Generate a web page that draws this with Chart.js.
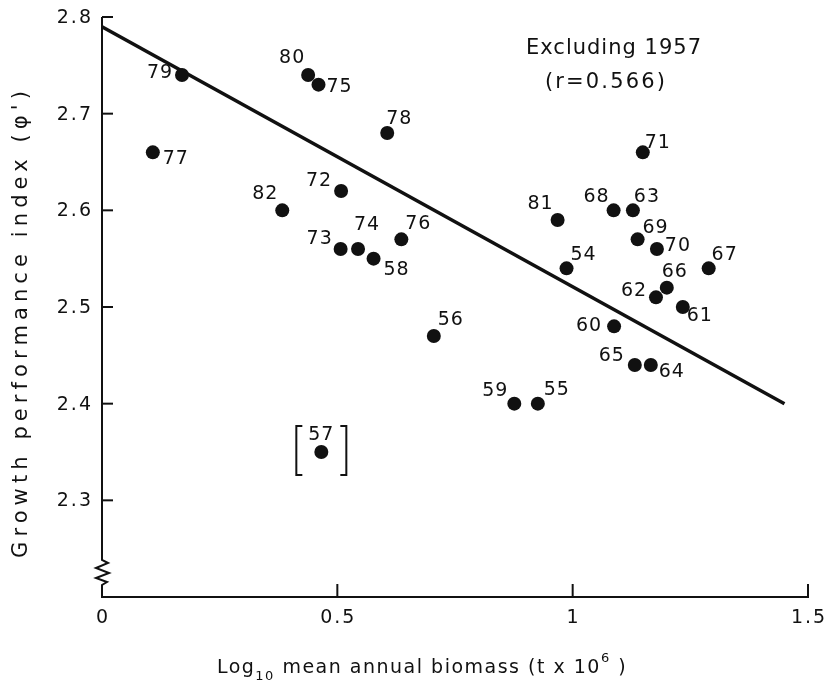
<!DOCTYPE html>
<html>
<head>
<meta charset="utf-8">
<script src="https://cdn.jsdelivr.net/npm/chart.js@4.4.0/dist/chart.umd.min.js"></script>
<style>
  html, body { margin: 0; padding: 0; background: #fff; }
</style>
</head>
<body>
<canvas id="scatter" width="826" height="688"></canvas>
<script>
// ---------------------------- data ----------------------------
const years   = ['54','55','56','57','58','59','60','61','62','63','64','65','66','67','68',
                 '69','70','71','72','73','74','75','76','77','78','79','80','81','82'];
const biomass = [0.987,0.926,0.705,0.466,0.577,0.876,1.088,1.234,1.177,1.128,1.166,1.132,1.200,1.289,1.087,
                 1.138,1.179,1.149,0.508,0.507,0.544,0.460,0.636,0.108,0.606,0.170,0.438,0.968,0.383];
const phi     = [2.54,2.40,2.47,2.35,2.55,2.40,2.48,2.50,2.51,2.60,2.44,2.44,2.52,2.54,2.60,
                 2.57,2.56,2.66,2.62,2.56,2.56,2.73,2.57,2.66,2.68,2.74,2.74,2.59,2.60];
const fitX = [0, 1.45];
const fitY = [2.79, 2.40];
const xTicks = [0, 0.5, 1, 1.5];
const xTickLabels = ['0', '0.5', '1', '1.5'];
const yTicks = [2.3, 2.4, 2.5, 2.6, 2.7, 2.8];
const yTickLabels = ['2.3', '2.4', '2.5', '2.6', '2.7', '2.8'];
const excludedYear = '57';

// where each year label sits relative to its dot (px)
const labelOffset = {
  '54':[17,-13], '55':[19,-14], '56':[17,-16], '57':[0,-17],  '58':[23,11],
  '59':[-19,-13],'60':[-25,0],  '61':[17,9],   '62':[-22,-6], '63':[14,-13],
  '64':[21,7],   '65':[-23,-9], '66':[8,-16],  '67':[16,-13], '68':[-17,-13],
  '69':[18,-11], '70':[21,-3],  '71':[15,-9],  '72':[-22,-10],'73':[-21,-10],
  '74':[9,-24],  '75':[21,2],   '76':[17,-15], '77':[23,7],   '78':[12,-14],
  '79':[-22,-2], '80':[-16,-17],'81':[-17,-16],'82':[-17,-16]
};

const FONT = '"DejaVu Sans", sans-serif';
const INK = '#111';

const points = years.map((y, i) => ({x: biomass[i], y: phi[i]}));
const fitLine = fitX.map((x, i) => ({x: x, y: fitY[i]}));

// stretch letter spacing so a text fills a given width
function spacingFor(ctx, text, width) {
  ctx.letterSpacing = '0px';
  const w = ctx.measureText(text).width;
  return Math.max(0, (width - w) / text.length) + 'px';
}

//---------------------------- decorations ----------------------------
const decoPlugin = {
  id: 'deco',
  afterDatasetsDraw(chart) {
    const ctx = chart.ctx;
    const xs = chart.scales.x, ys = chart.scales.y;
    const a = chart.chartArea;
    ctx.save();
    ctx.strokeStyle = INK;
    ctx.fillStyle = INK;
    ctx.lineWidth = 2;
    ctx.lineJoin = 'miter';

    // y axis with break
    const x0 = a.left;
    ctx.beginPath();
    ctx.moveTo(x0, a.top);
    ctx.lineTo(x0, a.bottom - 37);
    ctx.lineTo(x0 + 6, a.bottom - 34);
    ctx.lineTo(x0 - 6, a.bottom - 29);
    ctx.lineTo(x0 + 7, a.bottom - 24);
    ctx.lineTo(x0 - 6, a.bottom - 19);
    ctx.lineTo(x0 + 5, a.bottom - 15);
    ctx.lineTo(x0, a.bottom - 12);
    ctx.lineTo(x0, a.bottom);
    ctx.stroke();

    // inward ticks + tick labels
    ctx.font = '19px ' + FONT;
    ctx.letterSpacing = '2px';
    ctx.textAlign = 'right';
    ctx.textBaseline = 'middle';
    yTicks.forEach((v, i) => {
      const py = ys.getPixelForValue(v);
      ctx.beginPath();
      ctx.moveTo(x0, py);
      ctx.lineTo(x0 + 11, py);
      ctx.stroke();
      ctx.fillText(yTickLabels[i], x0 - 9, py + 1);
    });
    ctx.textAlign = 'center';
    xTicks.forEach((v, i) => {
      const px = xs.getPixelForValue(v);
      if (i > 0) {
        ctx.beginPath();
        ctx.moveTo(px, a.bottom);
        ctx.lineTo(px, a.bottom - 13);
        ctx.stroke();
      }
      ctx.fillText(xTickLabels[i], px + 1, a.bottom + 21);
    });

    // year labels
    ctx.font = '19px ' + FONT;
    ctx.letterSpacing = '1px';
    ctx.textAlign = 'center';
    ctx.textBaseline = 'middle';
    years.forEach((yr, i) => {
      const px = xs.getPixelForValue(biomass[i]);
      const py = ys.getPixelForValue(phi[i]);
      const off = labelOffset[yr];
      ctx.fillText(yr, px + off[0], py + off[1]);
      if (yr === excludedYear) {
        // brackets round the excluded year
        ctx.lineWidth = 2;
        ctx.beginPath();
        ctx.moveTo(px - 19, py - 26); ctx.lineTo(px - 25, py - 26);
        ctx.lineTo(px - 25, py + 23); ctx.lineTo(px - 19, py + 23);
        ctx.moveTo(px + 19, py - 26); ctx.lineTo(px + 25, py - 26);
        ctx.lineTo(px + 25, py + 23); ctx.lineTo(px + 19, py + 23);
        ctx.stroke();
      }
    });

    // note
    ctx.font = '21px ' + FONT;
    ctx.letterSpacing = spacingFor(ctx, 'Excluding 1957', 176);
    ctx.fillText('Excluding 1957', 614, 49);
    ctx.letterSpacing = spacingFor(ctx, '(r=0.566)', 122);
    ctx.fillText('(r=0.566)', 606, 83);

    // y title
    ctx.save();
    ctx.translate(22, 322);
    ctx.rotate(-Math.PI / 2);
    ctx.font = '21px ' + FONT;
    const yTitle = "Growth performance index (\u03C6')";
    ctx.letterSpacing = spacingFor(ctx, yTitle, 472);
    ctx.fillText(yTitle, 0, 0);
    ctx.restore();

    // x title with sub/superscripts
    ctx.letterSpacing = '1.5px';
    const parts = [
      ['Log', 19, 0], ['10', 13, 9], [' mean annual biomass (t x 10', 19, 0], ['6', 13, -9], [' )', 19, 0]
    ];
    let total = 0;
    parts.forEach(p => { ctx.font = p[1] + 'px ' + FONT; total += ctx.measureText(p[0]).width; });
    let cx = 422 - total / 2;
    ctx.textAlign = 'left';
    parts.forEach(p => {
      ctx.font = p[1] + 'px ' + FONT;
      ctx.fillText(p[0], cx, 668 + p[2]);
      cx += ctx.measureText(p[0]).width;
    });
    ctx.restore();
  }
};

//---------------------------- chart ----------------------------
const ctx = document.getElementById('scatter').getContext('2d');
const myChart = new Chart(ctx, {
  type: 'scatter',
  data: {
    datasets: [{
      label: 'years',
      data: points,
      backgroundColor: INK,
      borderWidth: 0,
      pointRadius: 7,
      pointHoverRadius: 7
    }, {
      label: 'fit',
      type: 'line',
      data: fitLine,
      borderColor: INK,
      borderWidth: 3.5,
      pointRadius: 0,
      fill: false
    }]
  },
  options: {
    responsive: false,
    animation: false,
    layout: { padding: { left: 0, top: 17, right: 18, bottom: 0 } },
    plugins: { legend: { display: false }, tooltip: { enabled: false } },
    scales: {
      x: {
        type: 'linear',
        min: 0, max: 1.5,
        afterBuildTicks: s => { s.ticks = xTicks.map(v => ({value: v})); },
        afterFit: s => { s.height = 91; },
        ticks: { display: false },
        grid: { display: false },
        border: { display: true, color: INK, width: 2 }
      },
      y: {
        type: 'linear',
        min: 2.2, max: 2.8,
        afterBuildTicks: s => { s.ticks = yTicks.map(v => ({value: v})); },
        afterFit: s => { s.width = 102; },
        ticks: { display: false },
        grid: { display: false },
        border: { display: false }
      }
    }
  },
  plugins: [decoPlugin]
});
</script>
</body>
</html>
